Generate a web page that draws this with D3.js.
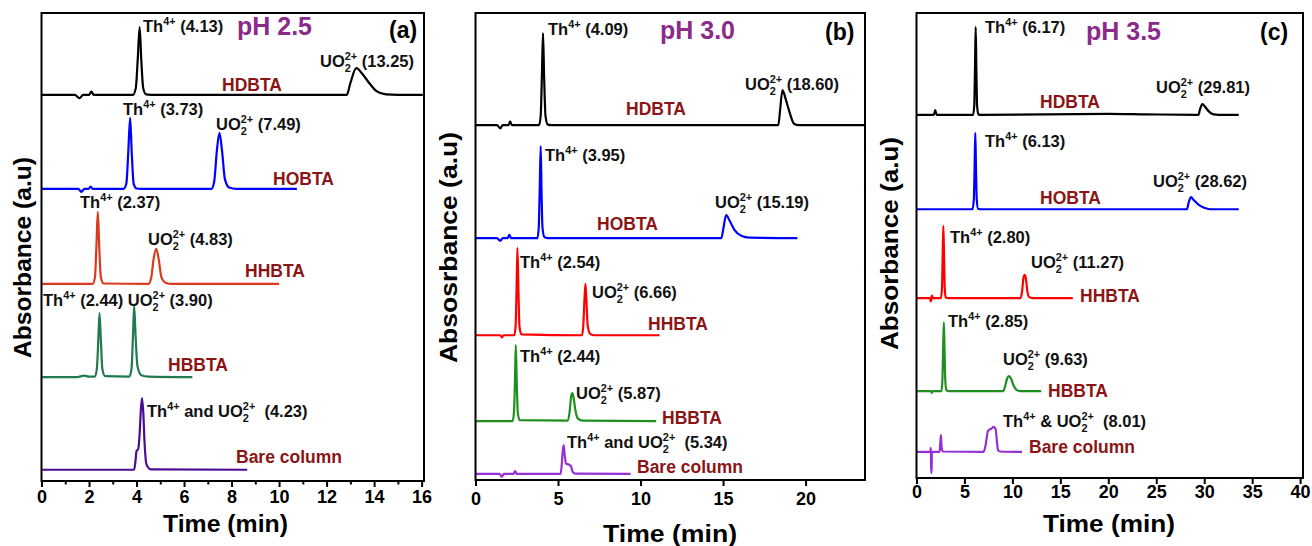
<!DOCTYPE html>
<html><head><meta charset="utf-8">
<script src="https://cdn.jsdelivr.net/npm/d3@7"></script>
<style>
body{margin:0;background:#fff}
svg{display:block}
text{font-family:"Liberation Sans",Arial,Helvetica,sans-serif;font-weight:bold;white-space:pre}
</style>
</head><body>
<svg id="chart" width="1312" height="546"></svg>
<script>
// ---------------- DATA ----------------
const seriesNames = ["HDBTA", "HOBTA", "HHBTA", "HBBTA", "Bare column"];
const panelLetters = ["(a)", "(b)", "(c)"];
const panelPH = ["pH 2.5", "pH 3.0", "pH 3.5"];
const xTicksA = [0, 2, 4, 6, 8, 10, 12, 14, 16];
const xMinorA = [1, 3, 5, 7, 9, 11, 13, 15];
const xTicksB = [0, 5, 10, 15, 20];
const xTicksC = [0, 5, 10, 15, 20, 25, 30, 35, 40];
const xMaxes = [16.1, 23.6, 40.3];
const yTitles = ["Absorbance (a.u)", "Absosrbance (a.u)", "Absorbance (a.u)"];
const xTitle = "Time (min)";

// chromatograms: [time (min), absorbance (a.u., stacked offsets)]
const a_HDBTA = [[0,82.5],[1.4,82.5],[1.6,81.8],[1.75,82.5],[2.0,82.5],[2.1,83.2],[2.2,82.5],[3.85,82.5],[3.97,84],[4.05,90],[4.13,97],[4.2,90],[4.28,84],[4.4,82.6],[4.6,82.5],[12.85,82.5],[13.0,85],[13.25,88.2],[13.5,87],[13.8,85],[14.1,83.3],[14.5,82.6],[15,82.5],[16.05,82.5]];
const a_HOBTA = [[0,62.4],[1.55,62.4],[1.68,61.8],[1.8,62.4],[1.98,62.4],[2.07,62.9],[2.15,62.4],[3.45,62.4],[3.57,63.5],[3.65,70],[3.73,77.6],[3.8,70],[3.88,63.5],[4.0,62.5],[4.2,62.4],[7.15,62.4],[7.27,64],[7.38,70.5],[7.49,74.4],[7.6,70.5],[7.72,64.5],[7.9,62.7],[8.2,62.4],[10.75,62.4]];
const a_HHBTA = [[0,42.1],[2.15,42.1],[2.25,43.5],[2.31,50],[2.37,57.5],[2.43,50],[2.5,43.5],[2.62,42.2],[4.5,42.1],[4.62,43.5],[4.72,47.5],[4.83,49.6],[4.93,47.5],[5.05,43.5],[5.25,42.3],[5.5,42.1],[10.0,42.1]];
const a_HBBTA = [[0,22.2],[1.5,22.2],[1.8,22.5],[2.0,22.3],[2.25,22.3],[2.33,24],[2.39,30],[2.44,35.9],[2.5,30],[2.56,24],[2.68,22.4],[3.7,22.3],[3.79,24],[3.85,31],[3.90,37.4],[3.96,31],[4.04,24.5],[4.2,22.6],[4.5,22.3],[6.35,22.2]];
const a_Bare = [[0,2.4],[3.9,2.4],[3.95,4],[4.0,6.4],[4.07,6.8],[4.13,10],[4.18,15],[4.23,17.7],[4.28,15],[4.34,8],[4.42,3.5],[4.6,2.5],[8.66,2.4]];

const b_HDBTA = [[0,76],[1.3,76],[1.5,75.3],[1.65,76],[2.0,76],[2.1,76.8],[2.2,76],[3.85,76],[3.95,78],[4.02,86],[4.09,95.7],[4.16,86],[4.24,78],[4.38,76.1],[4.6,76],[18.35,76],[18.45,79],[18.6,83.5],[18.8,81.5],[19.05,78.5],[19.3,76.3],[19.6,76],[23.55,76]];
const b_HOBTA = [[0,51.8],[1.3,51.8],[1.5,51.2],[1.65,51.8],[1.95,51.8],[2.05,52.5],[2.15,51.8],[3.75,51.8],[3.83,54],[3.89,62],[3.95,71.5],[4.0,62],[4.06,54],[4.18,52],[4.4,51.8],[14.9,51.8],[15.0,53.5],[15.19,56.7],[15.4,55.5],[15.7,53.5],[16.1,52.3],[16.6,51.9],[19.5,51.8]];
const b_HHBTA = [[0,31],[1.5,31],[1.6,30.5],[1.7,31],[2.35,31],[2.43,33],[2.49,41],[2.54,49.7],[2.6,41],[2.66,33],[2.78,31.2],[6.45,31],[6.53,33],[6.6,38.5],[6.66,42],[6.72,38.5],[6.8,33],[6.95,31.3],[7.2,31],[11.15,31]];
const b_HBBTA = [[0,12.6],[2.25,12.6],[2.33,14.5],[2.39,21],[2.44,28.9],[2.5,21],[2.56,14.5],[2.68,12.8],[5.6,12.7],[5.7,14.5],[5.8,18],[5.87,18.6],[5.95,17.5],[6.05,15],[6.2,13.2],[6.5,12.7],[10.95,12.6]];
const b_Bare = [[0,1.3],[1.45,1.3],[1.6,0.7],[1.72,1.3],[2.3,1.3],[2.4,1.9],[2.5,1.3],[5.15,1.3],[5.22,3],[5.28,6],[5.34,7.5],[5.4,5.5],[5.48,3.5],[5.65,3.3],[5.78,3],[5.88,1.8],[6.05,1.35],[9.4,1.3]];

const c_HDBTA = [[0,78.1],[1.8,78.1],[1.95,79.1],[2.1,78.1],[5.9,78.1],[6.02,80],[6.1,88],[6.17,97],[6.24,88],[6.32,80],[6.45,78.2],[6.7,78.1],[20,78.3],[24,78.2],[29.4,78.1],[29.55,79.2],[29.81,80.4],[30.1,79.8],[30.5,78.8],[31.0,78.2],[31.5,78.1],[33.6,78.1]];
const c_HOBTA = [[0,57.8],[5.85,57.8],[5.98,60],[6.06,67],[6.13,74.2],[6.2,67],[6.28,60],[6.42,57.9],[6.7,57.8],[28.2,57.8],[28.35,59],[28.62,60.4],[28.9,59.8],[29.4,58.8],[30.0,58.1],[30.6,57.8],[33.6,57.8]];
const c_HHBTA = [[0,38.7],[1.4,38.7],[1.5,38.0],[1.6,39.2],[1.7,38.7],[2.55,38.7],[2.66,41],[2.73,48],[2.80,54.2],[2.87,48],[2.94,41],[3.05,38.8],[3.3,38.7],[10.85,38.7],[11.0,40],[11.15,43],[11.27,43.7],[11.4,43],[11.55,40.3],[11.75,38.9],[12.1,38.7],[16.3,38.7]];
const c_HBBTA = [[0,18.7],[1.5,18.7],[1.6,18.3],[1.7,18.7],[2.6,18.7],[2.7,21],[2.78,28],[2.85,33.5],[2.92,28],[3.0,21],[3.12,18.8],[3.4,18.7],[9.05,18.7],[9.25,19.8],[9.45,21.4],[9.63,21.9],[9.85,21.4],[10.1,20],[10.4,19],[10.8,18.7],[13.0,18.7]];
const c_Bare = [[0,5.6],[1.45,5.6],[1.5,6.5],[1.52,1.1],[1.58,1.1],[1.6,5.6],[2.4,5.6],[2.48,7.5],[2.55,9.2],[2.62,6.5],[2.75,5.7],[7.0,5.6],[7.2,7],[7.45,10.1],[7.8,10.6],[8.05,11.0],[8.25,10.5],[8.38,8],[8.5,6],[8.7,5.7],[11.0,5.6]];

// peak annotations (^{} superscript, _{} subscript)
const peakTextA = ["Th^{4+} (4.13)","UO_{2}^{2+} (13.25)","Th^{4+} (3.73)","UO_{2}^{2+} (7.49)","Th^{4+} (2.37)","UO_{2}^{2+} (4.83)","Th^{4+} (2.44) UO_{2}^{2+} (3.90)","Th^{4+} and UO_{2}^{2+}  (4.23)"];
const peakTextB = ["Th^{4+} (4.09)","UO_{2}^{2+} (18.60)","Th^{4+} (3.95)","UO_{2}^{2+} (15.19)","Th^{4+} (2.54)","UO_{2}^{2+} (6.66)","Th^{4+} (2.44)","UO_{2}^{2+} (5.87)","Th^{4+} and UO_{2}^{2+}  (5.34)"];
const peakTextC = ["Th^{4+} (6.17)","UO_{2}^{2+} (29.81)","Th^{4+} (6.13)","UO_{2}^{2+} (28.62)","Th^{4+} (2.80)","UO_{2}^{2+} (11.27)","Th^{4+} (2.85)","UO_{2}^{2+} (9.63)","Th^{4+} & UO_{2}^{2+}  (8.01)"];

// ---------------- LAYOUT / STYLE ----------------
const frames = [
  {l:41.5, r:424, t:13, b:481},
  {l:475.5, r:865, t:13, b:480},
  {l:916.5, r:1303, t:13, b:478}
];
const traceColors = [
  ["#000000","#0000ff","#d93a1e","#1f7a50","#4b0c91"],
  ["#000000","#0000ff","#ff0000","#1f901f","#9530d6"],
  ["#000000","#0000ff","#ff0000","#1f901f","#9530d6"]
];
const nameColor = "#8b1515", phColor = "#8b2a8b";
const namePos = [
  [[222,91],[273,185],[245,277],[168,371],[236,463]],
  [[626,115],[597,230],[648,330],[662,424],[637,473]],
  [[1040,108],[1040,204],[1080,302],[1048,397],[1029,453]]
];
const peakPos = [
  [[143,32],[320,67],[123,115],[216,130],[80,208],[148,245],[43,306],[147,417]],
  [[548,35],[745,90],[545,161],[715,208],[520,268],[592,298],[520,362],[576,399],[567,448]],
  [[985,33],[1156,93],[985,147],[1153,187],[950,243],[1031,268],[948,327],[1003,365],[1003,427]]
];
const phPos = [[237,35],[660,39],[1086,40]];
const letterPos = [[389,38],[825,40],[1260,40]];
const tickLabelY = [503,505,498];
const xTitlePos = [[225.5,532,125],[670,542,134],[1109,532,132]];
const yTitlePos = [[31,257.5,201],[457,247.5,231],[898,243.5,213]];

const allTraces = [
  [a_HDBTA,a_HOBTA,a_HHBTA,a_HBBTA,a_Bare],
  [b_HDBTA,b_HOBTA,b_HHBTA,b_HBBTA,b_Bare],
  [c_HDBTA,c_HOBTA,c_HHBTA,c_HBBTA,c_Bare]
];
const allTicks = [xTicksA, xTicksB, xTicksC];
const allMinor = [xMinorA, [], []];
const allPeakText = [peakTextA, peakTextB, peakTextC];

// ---------------- DRAW ----------------
const svg = d3.select("#chart");

function richText(g, str, x, y, fs, color) {
  const t = g.append("text").attr("x", x).attr("y", y).attr("font-size", fs).attr("fill", color);
  const parts = str.split(/(\^\{[^}]*\}|_\{[^}]*\})/).filter(s => s.length);
  let off = 0, lastSubW = 0, prevSub = false;
  parts.forEach(p => {
    if (p.startsWith("^{")) {
      const target = -fs * 0.42;
      const ts = t.append("tspan").attr("font-size", fs * 0.66).attr("dy", target - off).text(p.slice(2, -1));
      if (prevSub) ts.attr("dx", -lastSubW);
      off = target; prevSub = false;
    } else if (p.startsWith("_{")) {
      const target = fs * 0.28;
      const ts = t.append("tspan").attr("font-size", fs * 0.66).attr("dy", target - off).text(p.slice(2, -1));
      lastSubW = ts.node().getComputedTextLength();
      off = target; prevSub = true;
    } else {
      t.append("tspan").attr("dy", -off).text(p);
      off = 0; prevSub = false;
    }
  });
  return t;
}

frames.forEach((f, i) => {
  const g = svg.append("g");
  const x = d3.scaleLinear().domain([0, xMaxes[i]]).range([f.l, f.r]);
  const y = d3.scaleLinear().domain([0, 100]).range([f.b, f.t]);
  const line = d3.line().x(d => x(d[0])).y(d => y(d[1])).curve(d3.curveMonotoneX);

  // traces
  allTraces[i].forEach((tr, k) => {
    g.append("path").datum(tr).attr("d", line)
      .attr("fill", "none").attr("stroke", traceColors[i][k])
      .attr("stroke-width", 2.2).attr("stroke-linejoin", "round");
  });

  // frame
  g.append("rect").attr("x", f.l).attr("y", f.t).attr("width", f.r - f.l).attr("height", f.b - f.t)
    .attr("fill", "none").attr("stroke", "#000").attr("stroke-width", 2);

  // x axis
  const axis = d3.axisBottom(x).tickValues(allTicks[i]).tickSize(6).tickFormat(d3.format("d"));
  const ag = g.append("g").attr("transform", `translate(0,${f.b})`).call(axis);
  ag.select(".domain").remove();
  ag.selectAll(".tick line").attr("stroke", "#000").attr("stroke-width", 2);
  ag.selectAll(".tick text").attr("y", null).attr("dy", null)
    .attr("transform", `translate(0,${tickLabelY[i] - f.b})`)
    .attr("font-size", 18).attr("fill", "#000")
    .attr("font-family", '"Liberation Sans",Arial,sans-serif').attr("font-weight", "bold");
  if (allMinor[i].length) {
    const mg = g.append("g").attr("transform", `translate(0,${f.b})`)
      .call(d3.axisBottom(x).tickValues(allMinor[i]).tickSize(3.5).tickFormat(""));
    mg.select(".domain").remove();
    mg.selectAll(".tick line").attr("stroke", "#000").attr("stroke-width", 2);
  }

  // axis titles
  const xt = xTitlePos[i];
  g.append("text").attr("x", xt[0]).attr("y", xt[1]).attr("text-anchor", "middle")
    .attr("font-size", 23).attr("textLength", xt[2]).attr("lengthAdjust", "spacingAndGlyphs").text(xTitle);
  const yt = yTitlePos[i];
  g.append("text").attr("transform", `translate(${yt[0]},${yt[1]}) rotate(-90)`).attr("text-anchor", "middle")
    .attr("font-size", 23).attr("textLength", yt[2]).attr("lengthAdjust", "spacingAndGlyphs").text(yTitles[i]);

  // series names
  seriesNames.forEach((n, k) => {
    g.append("text").attr("x", namePos[i][k][0]).attr("y", namePos[i][k][1])
      .attr("font-size", 17.5).attr("fill", nameColor).text(n);
  });
  // peak labels
  allPeakText[i].forEach((s, k) => richText(g, s, peakPos[i][k][0], peakPos[i][k][1], 16.5, "#111"));
  // pH and letters
  g.append("text").attr("x", phPos[i][0]).attr("y", phPos[i][1]).attr("font-size", 25).attr("fill", phColor).text(panelPH[i]);
  g.append("text").attr("x", letterPos[i][0]).attr("y", letterPos[i][1]).attr("font-size", 23).attr("fill", "#000").text(panelLetters[i]);
});
</script>
</body></html>
